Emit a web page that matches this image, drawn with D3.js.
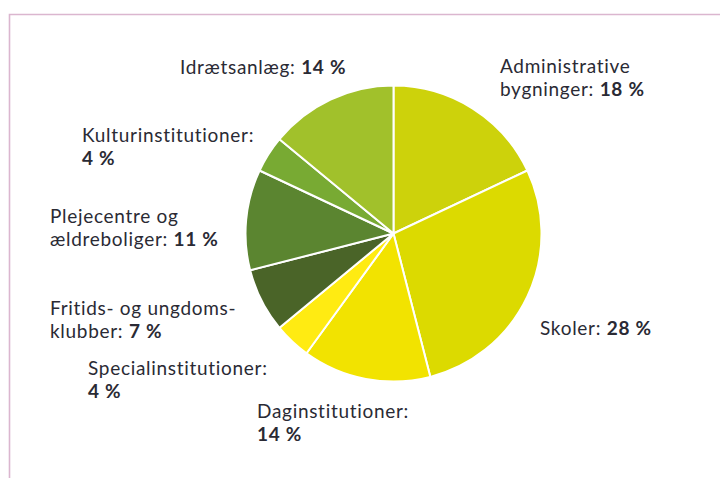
<!DOCTYPE html>
<html>
<head>
<meta charset="utf-8">
<script src="https://cdn.jsdelivr.net/npm/d3@7"></script>
<style>
  body { margin: 0; background: #fff; }
  svg text { font-family: Lato, "Open Sans", sans-serif; font-size: 19px; letter-spacing: 0.7px; fill: #2a2a34; white-space: pre; }
  .val { font-weight: 700; }
</style>
</head>
<body>
<div id="piechart"></div>
<script>
const width = 720, height = 482;

// data, clockwise from 12 o'clock
const categories = ["Administrative bygninger", "Skoler", "Daginstitutioner", "Specialinstitutioner",
    "Fritids- og ungdomsklubber", "Plejecentre og ældreboliger", "Kulturinstitutioner", "Idrætsanlæg"];
const shares = [18, 28, 14, 4, 7, 11, 4, 14];
const colors = ["#cdd20b", "#dcda00", "#f2e300", "#ffeb12", "#4a6428", "#5b8530", "#78aa33", "#a1c12b"];
// label text, line by line; the last line ends with the bold value
const labelLines = [
    ["Administrative", "bygninger: "],
    ["Skoler: "],
    ["Daginstitutioner:", ""],
    ["Specialinstitutioner:", ""],
    ["Fritids- og ungdoms-", "klubber: "],
    ["Plejecentre og", "ældreboliger: "],
    ["Kulturinstitutioner:", ""],
    ["Idrætsanlæg: "]
];

// layout: where each label block starts (x, first baseline)
const labelAnchor = [[500, 73], [540, 335], [257, 418], [88, 375], [50, 315], [50, 223], [82, 142], [180, 74]];
const lineH = 23;

const svg = d3.select("#piechart")
    .append("svg")
    .attr("width", width)
    .attr("height", height)
    .attr("viewBox", `0 0 ${width} ${height}`);

// frame lines top and left
svg.append("path")
    .attr("d", `M9.5,478 L9.5,14.5 L${width},14.5`)
    .attr("fill", "none")
    .attr("stroke", "#dbb6cf")
    .attr("stroke-width", 1.6);

const cx = 393.5, cy = 233.5, radius = 148;

const pie = d3.pie().sort(null).value(d => d);
const arc = d3.arc().innerRadius(0).outerRadius(radius);

const chart = svg.append("g")
    .attr("transform", `translate(${cx}, ${cy})`);

chart.selectAll("path")
    .data(pie(shares))
    .join("path")
    .attr("d", arc)
    .attr("fill", (d, i) => colors[i])
    .attr("stroke", "#fff")
    .attr("stroke-width", 2)
    .attr("stroke-linejoin", "round");

//labels: one text per line, bold value as its own text after the last line
const labels = svg.append("g");
categories.forEach((c, i) => {
    const [x, y] = labelAnchor[i];
    const lines = labelLines[i];
    lines.forEach((ln, j) => {
        const ly = y + j * lineH;
        let w = 0;
        if (ln !== "") {
            const t = labels.append("text").attr("x", x).attr("y", ly).text(ln);
            w = t.node().getComputedTextLength();
        }
        if (j === lines.length - 1) {
            labels.append("text")
                .attr("class", "val")
                .attr("x", x + w)
                .attr("y", ly)
                .text(`${shares[i]} %`);
        }
    });
});
</script>
</body>
</html>
